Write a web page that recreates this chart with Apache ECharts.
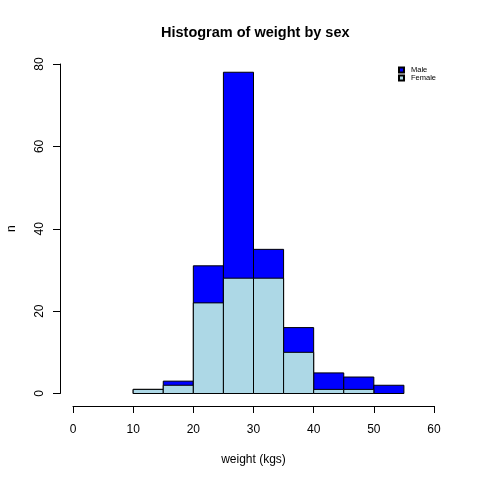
<!DOCTYPE html>
<html>
<head>
<meta charset="utf-8">
<script src="https://cdn.jsdelivr.net/npm/echarts@6/dist/echarts.min.js"></script>
<style>
  html, body { margin: 0; padding: 0; background: #fff; }
  #chart { width: 480px; height: 480px; }
</style>
</head>
<body>
<div id="chart"></div>
<script>
// bins of 5 kg
var binStart = [10, 15, 20, 25, 30, 35, 40, 45, 50];
var binEnd   = [15, 20, 25, 30, 35, 40, 45, 50, 55];
// Male bars show the total count, Female overlaid from zero
var maleTotal = [1, 3, 31, 78, 35, 16, 5, 4, 2];
var female    = [1, 2, 22, 28, 28, 10, 1, 1, 0];
var xTicks = [0, 10, 20, 30, 40, 50, 60];
var yTicks = [0, 20, 40, 60, 80];

var font = "Liberation Sans, Arial, Helvetica, sans-serif";

function rows(vals) {
  return binStart.map(function (s, i) { return [s, binEnd[i], vals[i]]; });
}

function renderBar(params, api) {
  var p0 = api.coord([api.value(0), api.value(2)]);
  var p1 = api.coord([api.value(1), 0]);
  return {
    type: "rect",
    shape: { x: p0[0], y: p0[1], width: p1[0] - p0[0], height: p1[1] - p0[1] },
    style: api.style({ stroke: "#000", lineWidth: 1 })
  };
}

var chart = echarts.init(document.getElementById("chart"));
chart.setOption({
  animation: false,
  backgroundColor: "#fff",
  title: {
    text: "Histogram of weight by sex",
    left: 156, top: 20,
    textStyle: { fontFamily: font, fontSize: 14.5, fontWeight: "bold", color: "#000" }
  },
  legend: {
    orient: "vertical",
    left: 398, top: 66, padding: 0,
    itemWidth: 5, itemHeight: 5, itemGap: 0,
    icon: "rect",
    data: ["Male", "Female"],
    textStyle: { fontFamily: font, fontSize: 7.5, lineHeight: 6, color: "#000", padding: [0, 0, 0, 2] }
  },
  grid: { left: 73, right: 46, top: 64, bottom: 86.5, outerBoundsMode: "none", containLabel: false },
  xAxis: {
    type: "value", min: 0, max: 60, interval: 10, offset: 12.5,
    name: "weight (kgs)", nameLocation: "middle", nameGap: 48,
    nameTextStyle: { fontFamily: font, fontSize: 12, color: "#000" },
    axisLine: { show: true, onZero: false, lineStyle: { color: "#000" } },
    axisTick: { show: true, length: 7, lineStyle: { color: "#000" } },
    axisLabel: { fontFamily: font, fontSize: 12, color: "#000", margin: 18,
      customValues: xTicks },
    splitLine: { show: false }
  },
  yAxis: {
    type: "value", min: 0, max: 80, interval: 20, offset: 13,
    name: "n", nameLocation: "middle", nameGap: 42, nameRotate: 90,
    nameTextStyle: { fontFamily: font, fontSize: 12, color: "#000" },
    axisLine: { show: true, onZero: false, lineStyle: { color: "#000" } },
    axisTick: { show: true, length: 7, lineStyle: { color: "#000" } },
    axisLabel: { fontFamily: font, fontSize: 12, color: "#000", rotate: 90, margin: 14,
      customValues: yTicks },
    splitLine: { show: false }
  },
  series: [
    {
      name: "Male", type: "custom", renderItem: renderBar,
      itemStyle: { color: "#0000ff", borderColor: "#000", borderWidth: 1 },
      encode: { x: [0, 1], y: 2 },
      data: rows(maleTotal)
    },
    {
      name: "Female", type: "custom", renderItem: renderBar,
      itemStyle: { color: "#add8e6", borderColor: "#000", borderWidth: 1 },
      encode: { x: [0, 1], y: 2 },
      data: rows(female)
    }
  ]
});
</script>
</body>
</html>
